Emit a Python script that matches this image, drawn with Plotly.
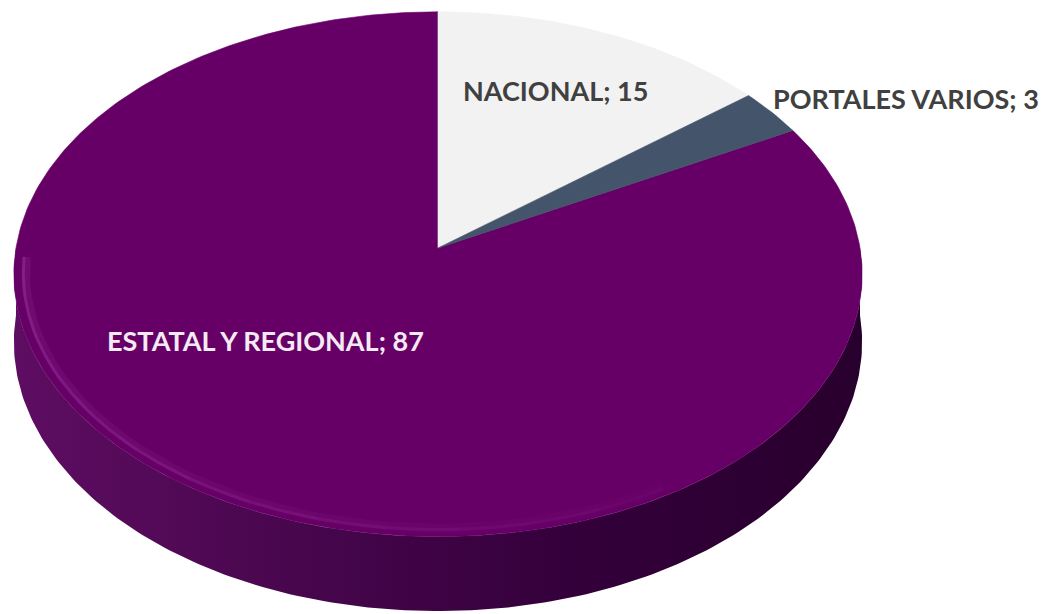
import numpy as np
import plotly.graph_objects as go

# ---- data ----
categories = ["NACIONAL", "PORTALES VARIOS", "ESTATAL Y REGIONAL"]
values = [15, 3, 87]
colors = ["#f2f2f2", "#44546a", "#660066"]
label_colors = ["#404040", "#404040", "#f4eaf4"]

# ---- 3D pie projection style (pixel space) ----
CX, CY = 438.0, 248.0      # projected centre of pie top
A, B = 422.0, 259.8        # horizontal / depth radii
K = 0.10                   # perspective factor
D = 67.0                   # thickness
label_pos = [(555, 90), (906, 98), (265, 340)]


def proj(theta, h=0.0, r=1.0):
    u = r * np.sin(theta)
    v = r * np.cos(theta)
    den = 1 + K * v
    return CX + A * u / den, CY + (-B * v + D * h) / den


total = float(sum(values))
fig = go.Figure()

# side wall (front half)
th = np.linspace(np.pi / 2, 3 * np.pi / 2, 200)
xt, yt = proj(th, 0)
xb, yb = proj(th[::-1], 1)
fig.add_trace(go.Scatter(
    x=np.concatenate([xt, xb, xt[:1]]), y=np.concatenate([yt, yb, yt[:1]]),
    mode="lines", fill="toself", line=dict(width=0, color="#3a0040"),
    fillgradient=dict(type="horizontal",
                      colorscale=[[0, "#5e0d62"], [0.3, "#4a074f"],
                                  [0.65, "#34003b"], [1, "#28002d"]]),
    hoverinfo="skip", showlegend=False))

# top face slices
start = 0.0
order = [2, 0, 1]
bounds = []
for i, v in enumerate(values):
    a0 = start
    a1 = start + 2 * np.pi * v / total
    bounds.append((a0, a1))
    start = a1
for i in order:
    a0, a1 = bounds[i]
    n = max(int((a1 - a0) / (2 * np.pi) * 400), 10)
    t = np.linspace(a0, a1, n)
    x, y = proj(t, 0)
    fig.add_trace(go.Scatter(
        x=np.concatenate([[CX], x, [CX]]), y=np.concatenate([[CY], y, [CY]]),
        mode="lines", fill="toself", fillcolor=colors[i],
        line=dict(width=0.6, color=colors[i]),
        hoverinfo="skip", showlegend=False, name=categories[i]))

# soft bevel highlight along the front rim of the big slice
segs = np.linspace(np.deg2rad(268), np.deg2rad(150), 14)
for j in range(len(segs) - 1):
    t = np.linspace(segs[j], segs[j + 1], 20)
    fade = 1 - j / (len(segs) - 1)
    for r, w, op in [(0.972, 8, 0.18), (0.978, 3, 0.45)]:
        x, y = proj(t, 0, r=r)
        fig.add_trace(go.Scatter(x=x, y=y, mode="lines",
                                 line=dict(width=w, color="#9a35a0"),
                                 opacity=op * fade + 0.03,
                                 hoverinfo="skip", showlegend=False))

# labels
for i, c in enumerate(categories):
    lx, ly = label_pos[i]
    fig.add_annotation(x=lx, y=ly, xref="x", yref="y", showarrow=False,
                       text=f"<b>{c}; {values[i]}</b>",
                       font=dict(family="Lato", size=27, color=label_colors[i]),
                       xanchor="center", yanchor="middle")

fig.update_layout(
    width=1042, height=614, autosize=False,
    margin=dict(l=0, r=0, t=0, b=0),
    paper_bgcolor="white", plot_bgcolor="white",
    xaxis=dict(range=[0, 1042], visible=False, fixedrange=True),
    yaxis=dict(range=[614, 0], visible=False, fixedrange=True),
)

fig.write_html("out.html", post_script="document.body.style.margin='0';",
               config={"displayModeBar": False})
